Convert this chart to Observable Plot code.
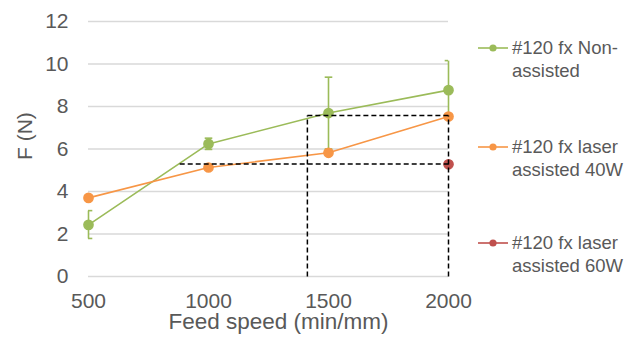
<!DOCTYPE html>
<html>
<head>
<meta charset="utf-8">
<script src="https://cdn.jsdelivr.net/npm/d3@7"></script>
<script src="https://cdn.jsdelivr.net/npm/@observablehq/plot@0.6"></script>
<style>
  body { margin: 0; background: #fff; }
  #wrap { position: relative; width: 635px; height: 340px; font-family: "Liberation Sans", Arial, sans-serif; color: #595959; }
  #chart { position: absolute; left: 0; top: 0; }
  .leg { position: absolute; left: 478px; font-size: 18.5px; line-height: 23px; white-space: nowrap; }
  .leg svg { position: absolute; left: 0; top: 0; }
  .leg span { position: absolute; left: 34px; top: -12px; }
</style>
</head>
<body>
<div id="wrap"><div id="chart"></div></div>
<script>
// ---- data ----
const feedSpeeds = [500, 1000, 1500, 2000];
const nonAssisted = [2.43, 6.24, 7.69, 8.77];
const nonAssistedLow = [1.79, 5.98, 6.0, 7.4];
const nonAssistedHigh = [3.1, 6.51, 9.38, 10.16];
const laser40 = [3.7, 5.13, 5.82, 7.53];
const laser60Speeds = [2000];
const laser60 = [5.28];
const yTicks = [0, 2, 4, 6, 8, 10, 12];
const xTicks = [500, 1000, 1500, 2000];
const guideX1 = [880, 1412, 1412, 2000];
const guideY1 = [5.3, 7.58, 0, 0];
const guideX2 = [2000, 2000, 1412, 2000];
const guideY2 = [5.3, 7.58, 7.58, 7.58];
const seriesNames = ["#120 fx Non-\nassisted", "#120 fx laser\nassisted 40W", "#120 fx laser\nassisted 60W"];
const seriesColors = ["#9BBB59", "#F79646", "#C0504D"];

// ---- tables ----
const green = feedSpeeds.map((x, i) => ({x, y: nonAssisted[i], lo: nonAssistedLow[i], hi: nonAssistedHigh[i]}));
const orange = feedSpeeds.map((x, i) => ({x, y: laser40[i]}));
const red = laser60Speeds.map((x, i) => ({x, y: laser60[i]}));
const guides = guideX1.map((x1, i) => ({x1, y1: guideY1[i], x2: guideX2[i], y2: guideY2[i]}));
const caps = green.flatMap(d => [{x: d.x, y: d.lo}, {x: d.x, y: d.hi}]);

const capSymbol = {
  draw(ctx, size) {
    const r = Math.sqrt(size / Math.PI);
    ctx.moveTo(-r, 0);
    ctx.lineTo(r, 0);
  }
};

const font = "'Liberation Sans', Arial, sans-serif";

const chart = Plot.plot({
  width: 475,
  height: 340,
  marginLeft: 88,
  marginRight: 27,
  marginTop: 21,
  marginBottom: 64,
  style: {fontFamily: font, fontSize: "21px", color: "#595959", background: "white"},
  x: {domain: [500, 2000]},
  y: {domain: [0, 12]},
  marks: [
    Plot.gridY(yTicks, {stroke: "#D9D9D9", strokeOpacity: 1, strokeWidth: 1.3}),
    Plot.axisY(yTicks, {tickSize: 0, tickPadding: 20, label: null, fontSize: 21}),
    Plot.axisX(xTicks, {tickSize: 0, tickPadding: 17, label: null, fontSize: 21, tickFormat: d => String(d)}),
    Plot.text(["Feed speed (min/mm)"], {text: d => d, frameAnchor: "bottom", dx: 10, dy: 52, fontSize: 22.5, fill: "#595959"}),
    Plot.text(["F (N)"], {text: d => d, frameAnchor: "left", rotate: -90, dx: -63, dy: 11, fontSize: 21, fill: "#595959"}),
    // green series
    Plot.line(green, {x: "x", y: "y", stroke: seriesColors[0], strokeWidth: 1.6}),
    Plot.link(green, {x1: "x", x2: "x", y1: "lo", y2: "hi", stroke: seriesColors[0], strokeWidth: 1.6}),
    Plot.dot(caps, {x: "x", y: "y", symbol: capSymbol, r: 3.8, stroke: seriesColors[0], strokeWidth: 1.6, fill: "none", clip: true}),
    Plot.dot(green, {x: "x", y: "y", r: 4.6, fill: seriesColors[0], stroke: seriesColors[0]}),
    // orange series
    Plot.line(orange, {x: "x", y: "y", stroke: seriesColors[1], strokeWidth: 1.6}),
    Plot.dot(orange, {x: "x", y: "y", r: 4.6, fill: seriesColors[1], stroke: seriesColors[1]}),
    // red series
    Plot.dot(red, {x: "x", y: "y", r: 4.6, fill: seriesColors[2], stroke: seriesColors[2]}),
    // dashed guides
    Plot.link(guides, {x1: "x1", y1: "y1", x2: "x2", y2: "y2", stroke: "black", strokeWidth: 1.5, strokeDasharray: "5,3"})
  ]
});
document.getElementById("chart").appendChild(chart);

// ---- legend ----
const legendTops = [48, 147, 243];
const wrap = document.getElementById("wrap");
seriesNames.forEach((name, i) => {
  const div = document.createElement("div");
  div.className = "leg";
  div.style.top = legendTops[i] + "px";
  const c = seriesColors[i];
  div.innerHTML = `<svg width="32" height="2" style="overflow:visible"><line x1="0" x2="30" y1="0" y2="0" stroke="${c}" stroke-width="1.6"/><circle cx="15" cy="0" r="3.6" fill="${c}"/></svg><span>${name.replace("\n", "<br>")}</span>`;
  wrap.appendChild(div);
});
</script>
</body>
</html>
